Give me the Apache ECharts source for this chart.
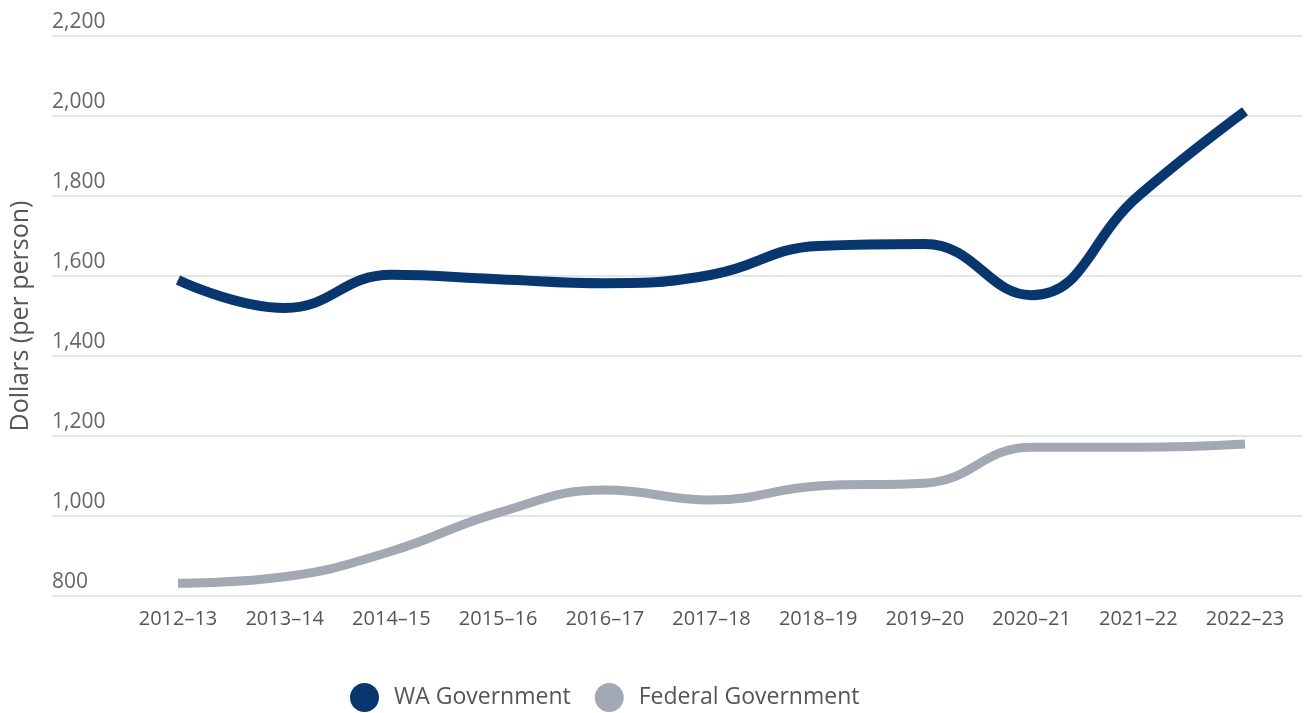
<!DOCTYPE html>
<html>
<head>
<meta charset="utf-8">
<script src="https://cdn.jsdelivr.net/npm/echarts@6/dist/echarts.min.js"></script>
<style>
html,body{margin:0;padding:0;background:#fff;}
#chart{width:1309px;height:713px;}
</style>
</head>
<body>
<div id="chart"></div>
<script>
const categories = ['2012–13','2013–14','2014–15','2015–16','2016–17','2017–18','2018–19','2019–20','2020–21','2021–22','2022–23'];
const waGovernment = [1590, 1520, 1603, 1592, 1582, 1603, 1675, 1680, 1552, 1800, 2012];
const federalGovernment = [832, 848, 912, 1008, 1065, 1040, 1075, 1082, 1172, 1172, 1180];
const yMin = 800, yMax = 2200, yStep = 200;
const seriesNames = ['WA Government', 'Federal Government'];

const FONT = '"Open Sans", "Noto Sans", sans-serif';
const chart = echarts.init(document.getElementById('chart'), null, {renderer: 'canvas'});
chart.setOption({
  animation: false,
  backgroundColor: '#ffffff',
  textStyle: {fontFamily: FONT},
  grid: [
    {left: 52, right: 7, top: 36, bottom: 117, containLabel: false},
    {left: 178, right: 64, top: 36, bottom: 117, containLabel: false}
  ],
  legend: {
    data: seriesNames,
    left: 350,
    top: 683,
    padding: 0,
    icon: 'circle',
    itemWidth: 29,
    itemHeight: 29,
    itemGap: 24,
    textStyle: {fontSize: 23, color: '#555', fontFamily: FONT, padding: [0, 0, 0, 10]}
  },
  xAxis: [
    {gridIndex: 0, type: 'category', data: categories, show: false},
    {
      gridIndex: 1, type: 'category', data: categories, boundaryGap: false,
      axisLine: {show: false}, axisTick: {show: false}, splitLine: {show: false},
      axisLabel: {color: '#555', fontSize: 20, margin: 13, fontFamily: FONT, interval: 0}
    }
  ],
  yAxis: [
    {
      gridIndex: 0, type: 'value', min: yMin, max: yMax, interval: yStep,
      name: 'Dollars (per person)', nameLocation: 'middle', nameGap: 19,
      nameTextStyle: {fontSize: 25, color: '#555', fontFamily: FONT},
      axisLine: {show: false}, axisTick: {show: false},
      splitLine: {lineStyle: {color: '#dddddd', width: 1.5}},
      axisLabel: {
        inside: true, margin: 0, align: 'left', verticalAlign: 'bottom',
        padding: [0, 0, 3, 0],
        color: '#666', fontSize: 21, fontFamily: FONT,
        formatter: v => v.toLocaleString('en-US')
      }
    },
    {gridIndex: 1, type: 'value', min: yMin, max: yMax, interval: yStep, show: false, splitLine: {show: false}}
  ],
  series: [
    {
      name: seriesNames[0], type: 'line', xAxisIndex: 1, yAxisIndex: 1,
      data: waGovernment, smooth: 0.45, symbol: 'none',
      itemStyle: {color: '#08376f'},
      lineStyle: {color: '#08376f', width: 10}
    },
    {
      name: seriesNames[1], type: 'line', xAxisIndex: 1, yAxisIndex: 1,
      data: federalGovernment, smooth: 0.45, symbol: 'none',
      itemStyle: {color: '#a2a9b4'},
      lineStyle: {color: '#a2a9b4', width: 9}
    }
  ]
});
</script>
</body>
</html>
